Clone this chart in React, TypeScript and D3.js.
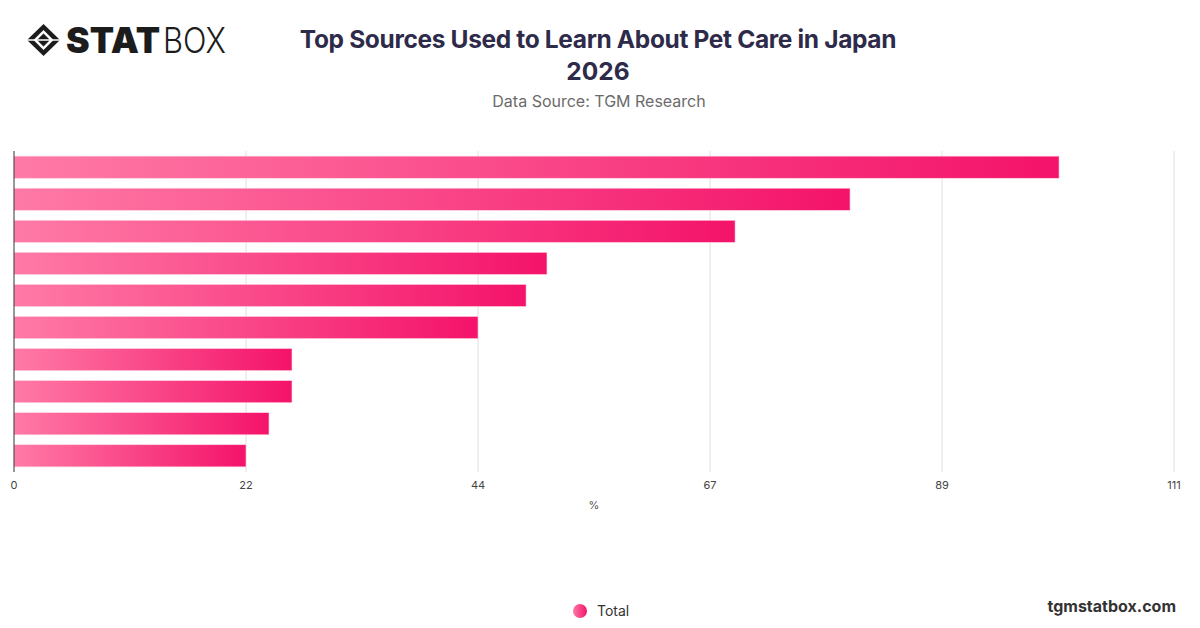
import { useEffect, useRef } from "react";
import * as d3 from "d3";

// Data (labels are hidden in the chart itself)
const categories = [
  "Veterinarians",
  "Internet search",
  "Pet shops",
  "Social media",
  "Family and friends",
  "Books and magazines",
  "Pet food brands",
  "Video platforms",
  "TV programs",
  "Breeders",
];
const values = [100, 80, 69, 51, 49, 44.4, 26.6, 26.6, 24.4, 22.2];
const tickValues = [0, 22.2, 44.4, 66.6, 88.8, 111];
const tickLabels = ["0", "22", "44", "67", "89", "111"];
const X_MAX = 111;

const W = 1200;
const H = 628;
const PLOT = { left: 14, right: 1174, top: 151, bottom: 472 };
const FONT = "Inter, 'Noto Sans', sans-serif";

export default function App() {
  const svgRef = useRef<SVGSVGElement>(null);

  useEffect(() => {
    const svg = d3.select(svgRef.current!);
    svg.selectAll("*").remove();

    const x = d3.scaleLinear().domain([0, X_MAX]).range([PLOT.left, PLOT.right]);
    const y = d3
      .scaleBand<string>()
      .domain(categories)
      .range([PLOT.top, PLOT.bottom])
      .paddingInner(0.31)
      .paddingOuter(0.16);

    const defs = svg.append("defs");
    const grad = defs
      .append("linearGradient")
      .attr("id", "barGrad")
      .attr("x1", "0%")
      .attr("x2", "100%")
      .attr("y1", "0%")
      .attr("y2", "0%");
    grad.append("stop").attr("offset", "0%").attr("stop-color", "#ff7aa6");
    grad.append("stop").attr("offset", "100%").attr("stop-color", "#f4136a");

    const dotGrad = defs
      .append("linearGradient")
      .attr("id", "dotGrad")
      .attr("x1", "0%")
      .attr("x2", "100%");
    dotGrad.append("stop").attr("offset", "0%").attr("stop-color", "#ff7aa6");
    dotGrad.append("stop").attr("offset", "100%").attr("stop-color", "#f4136a");

    svg.append("rect").attr("width", W).attr("height", H).attr("fill", "#fff");

    // Logo
    const logo = svg.append("g").attr("transform", "translate(27,24)");
    logo
      .append("path")
      .attr("d", "M16.5 0 L33 16 L16.5 32 L0 16 Z")
      .attr("fill", "#1c1c1c");
    logo
      .append("path")
      .attr("d", "M16.5 6 L26.5 16 L16.5 26 L6.5 16 Z")
      .attr("fill", "#fff");
    logo
      .append("path")
      .attr("d", "M16.5 9.5 L23 16 L16.5 22.5 L10 16 Z")
      .attr("fill", "#1c1c1c");
    logo
      .append("path")
      .attr("d", "M0 16 L33 16")
      .attr("stroke", "#fff")
      .attr("stroke-width", 1.6);
    svg
      .append("text")
      .attr("x", 66)
      .attr("y", 53)
      .attr("font-family", "Inter, sans-serif")
      .attr("font-weight", 900)
      .attr("font-size", 35)
      .attr("textLength", 94)
      .attr("lengthAdjust", "spacingAndGlyphs")
      .attr("fill", "#1c1c1c")
      .text("STAT");
    svg
      .append("text")
      .attr("x", 163)
      .attr("y", 53)
      .attr("font-family", "Inter, sans-serif")
      .attr("font-weight", 300)
      .attr("font-size", 35)
      .attr("textLength", 63)
      .attr("lengthAdjust", "spacingAndGlyphs")
      .attr("fill", "#1c1c1c")
      .text("BOX");

    // Title
    svg
      .append("text")
      .attr("x", 598)
      .attr("y", 48)
      .attr("text-anchor", "middle")
      .attr("font-family", FONT)
      .attr("font-weight", 700)
      .attr("font-size", 24.5)
      .attr("letter-spacing", "-0.35")
      .attr("fill", "#2e2b4a")
      .text("Top Sources Used to Learn About Pet Care in Japan");
    svg
      .append("text")
      .attr("x", 598)
      .attr("y", 80)
      .attr("text-anchor", "middle")
      .attr("font-family", FONT)
      .attr("font-weight", 700)
      .attr("font-size", 24.5)
      .attr("fill", "#2e2b4a")
      .text("2026");
    svg
      .append("text")
      .attr("x", 599)
      .attr("y", 107)
      .attr("text-anchor", "middle")
      .attr("font-family", FONT)
      .attr("font-size", 16)
      .attr("fill", "#6b6b6b")
      .text("Data Source: TGM Research");

    // Grid lines
    svg
      .append("g")
      .selectAll("line")
      .data(tickValues.slice(1))
      .enter()
      .append("line")
      .attr("x1", (d) => x(d))
      .attr("x2", (d) => x(d))
      .attr("y1", PLOT.top)
      .attr("y2", PLOT.bottom)
      .attr("stroke", "#dedede")
      .attr("stroke-width", 1);

    // Bars
    svg
      .append("g")
      .selectAll("rect")
      .data(categories)
      .enter()
      .append("rect")
      .attr("x", x(0))
      .attr("y", (d) => y(d)!)
      .attr("width", (d, i) => x(values[i]) - x(0))
      .attr("height", y.bandwidth())
      .attr("fill", "url(#barGrad)")
      .attr("stroke", "#ffd3e2")
      .attr("stroke-width", 0.6);

    // Left axis line
    svg
      .append("line")
      .attr("x1", x(0))
      .attr("x2", x(0))
      .attr("y1", PLOT.top)
      .attr("y2", PLOT.bottom)
      .attr("stroke", "#333")
      .attr("stroke-width", 1);

    // Tick labels
    svg
      .append("g")
      .selectAll("text")
      .data(tickValues)
      .enter()
      .append("text")
      .attr("x", (d) => x(d))
      .attr("y", 489)
      .attr("text-anchor", "middle")
      .attr("font-family", FONT)
      .attr("font-size", 11)
      .attr("fill", "#444")
      .text((d, i) => tickLabels[i]);

    svg
      .append("text")
      .attr("x", 594)
      .attr("y", 509)
      .attr("text-anchor", "middle")
      .attr("font-family", FONT)
      .attr("font-size", 11)
      .attr("fill", "#555")
      .text("%");

    // Legend
    svg
      .append("circle")
      .attr("cx", 580)
      .attr("cy", 611)
      .attr("r", 7)
      .attr("fill", "url(#dotGrad)");
    svg
      .append("text")
      .attr("x", 597)
      .attr("y", 616)
      .attr("font-family", FONT)
      .attr("font-size", 14)
      .attr("fill", "#333")
      .text("Total");

    svg
      .append("text")
      .attr("x", 1176)
      .attr("y", 612)
      .attr("text-anchor", "end")
      .attr("font-family", FONT)
      .attr("font-weight", 700)
      .attr("font-size", 16)
      .attr("fill", "#333")
      .text("tgmstatbox.com");
  }, []);

  return (
    <svg
      ref={svgRef}
      width={W}
      height={H}
      style={{ position: "absolute", left: 0, top: 0, display: "block" }}
    />
  );
}
